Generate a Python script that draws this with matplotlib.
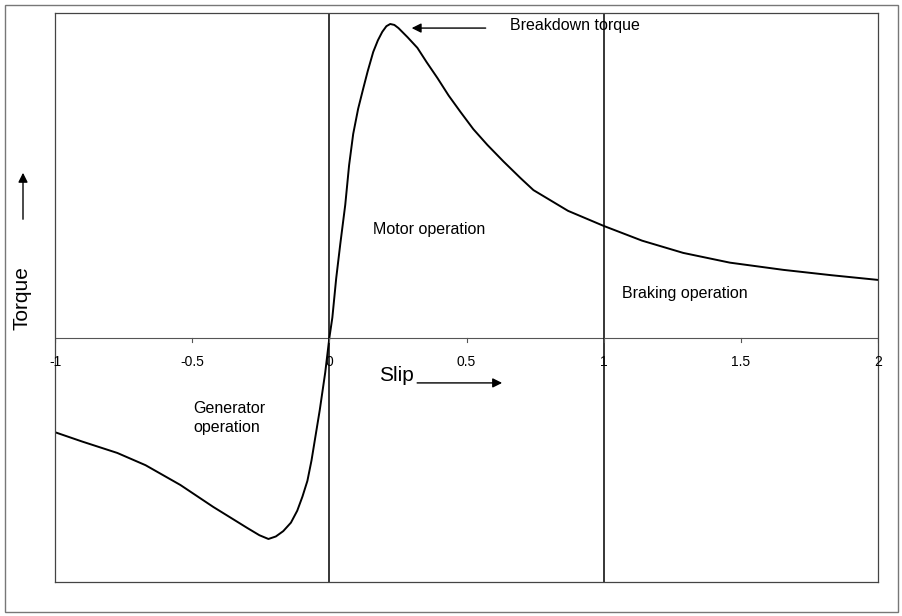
import matplotlib.pyplot as plt
from matplotlib.patches import Rectangle, FancyArrowPatch

plt.rcParams['font.family'] = ['Liberation Sans', 'DejaVu Sans']

# slip / torque (torque normalised to breakdown torque)
slip = [-1.0, -0.9, -0.773, -0.67, -0.543, -0.423, -0.36, -0.299, -0.255, -0.222,
        -0.195, -0.168, -0.14, -0.117, -0.098, -0.080, -0.065, -0.05, -0.035, -0.015, 0.0,
        0.011, 0.025, 0.040, 0.058, 0.072, 0.087, 0.105, 0.124, 0.14, 0.160, 0.177, 0.193,
        0.208, 0.222, 0.237, 0.252, 0.285, 0.321, 0.355, 0.394, 0.435, 0.478, 0.525, 0.576,
        0.635, 0.696, 0.744, 0.87, 1.0, 1.14, 1.29, 1.46, 1.655, 1.83, 2.0]
torque = [-0.30, -0.33, -0.366, -0.405, -0.468, -0.538, -0.572, -0.605, -0.628, -0.640,
          -0.632, -0.615, -0.588, -0.550, -0.505, -0.455, -0.39, -0.31, -0.23, -0.11, 0.0,
          0.065, 0.19, 0.30, 0.424, 0.55, 0.65, 0.73, 0.796, 0.85, 0.911, 0.948, 0.975,
          0.993, 1.0, 0.997, 0.987, 0.958, 0.924, 0.878, 0.828, 0.772, 0.720, 0.665, 0.615,
          0.562, 0.510, 0.471, 0.405, 0.357, 0.31, 0.271, 0.24, 0.217, 0.20, 0.185]

ticks = [-1, -0.5, 0, 0.5, 1, 1.5, 2]
tick_labels = ['-1', '-0.5', '0', '0.5', '1', '1.5', '2']

fig = plt.figure(figsize=(9.03, 6.16), dpi=100)
ax = fig.add_axes([55 / 903, 1 - 582 / 616, 823 / 903, 569 / 616])

ax.plot(slip, torque, color='black', lw=1.4)
ax.set_xlim(-1, 2)
ax.set_ylim(-0.777, 1.035)

# axis through the middle
ax.axhline(0, color='#555555', lw=0.8)
ax.axvline(0, color='black', lw=1.1)
ax.axvline(1, color='black', lw=1.1)
for t, lab in zip(ticks, tick_labels):
    ax.plot([t, t], [0, -0.012], color='#555555', lw=0.8)
    ax.text(t, -0.075, lab, ha='center', va='center', fontsize=10)

ax.set_xticks([])
ax.set_yticks([])
for s in ax.spines.values():
    s.set_color('#444444')
    s.set_linewidth(0.9)

# annotations
ax.annotate('', xy=(0.29, 0.987), xytext=(0.58, 0.987),
            arrowprops=dict(arrowstyle='-|>', color='black', lw=1, mutation_scale=14))
ax.text(0.66, 0.994, 'Breakdown torque', ha='left', va='center', fontsize=11.5)
ax.text(0.16, 0.344, 'Motor operation', ha='left', va='center', fontsize=11.5)
ax.text(1.068, 0.143, 'Braking operation', ha='left', va='center', fontsize=11.5)
ax.text(-0.496, -0.255, 'Generator\noperation', ha='left', va='center', fontsize=11.5,
        linespacing=1.4)
ax.text(0.18, -0.118, 'Slip', ha='left', va='center', fontsize=15)
ax.annotate('', xy=(0.64, -0.143), xytext=(0.31, -0.143),
            arrowprops=dict(arrowstyle='-|>', color='black', lw=1, mutation_scale=14))

fig.text(22 / 903, 1 - 298 / 616, 'Torque', rotation=90, ha='center', va='center', fontsize=15)
fig.patches.append(FancyArrowPatch(
    (23 / 903, 1 - 222 / 616), (23 / 903, 1 - 170 / 616), transform=fig.transFigure,
    arrowstyle='-|>', mutation_scale=14, color='black', lw=1))

# outer frame
fig.patches.append(Rectangle((5 / 903, 4 / 616), 893 / 903, 607 / 616, transform=fig.transFigure,
                             fill=False, edgecolor='#777777', lw=1))

fig.savefig('out.png', dpi=100)
